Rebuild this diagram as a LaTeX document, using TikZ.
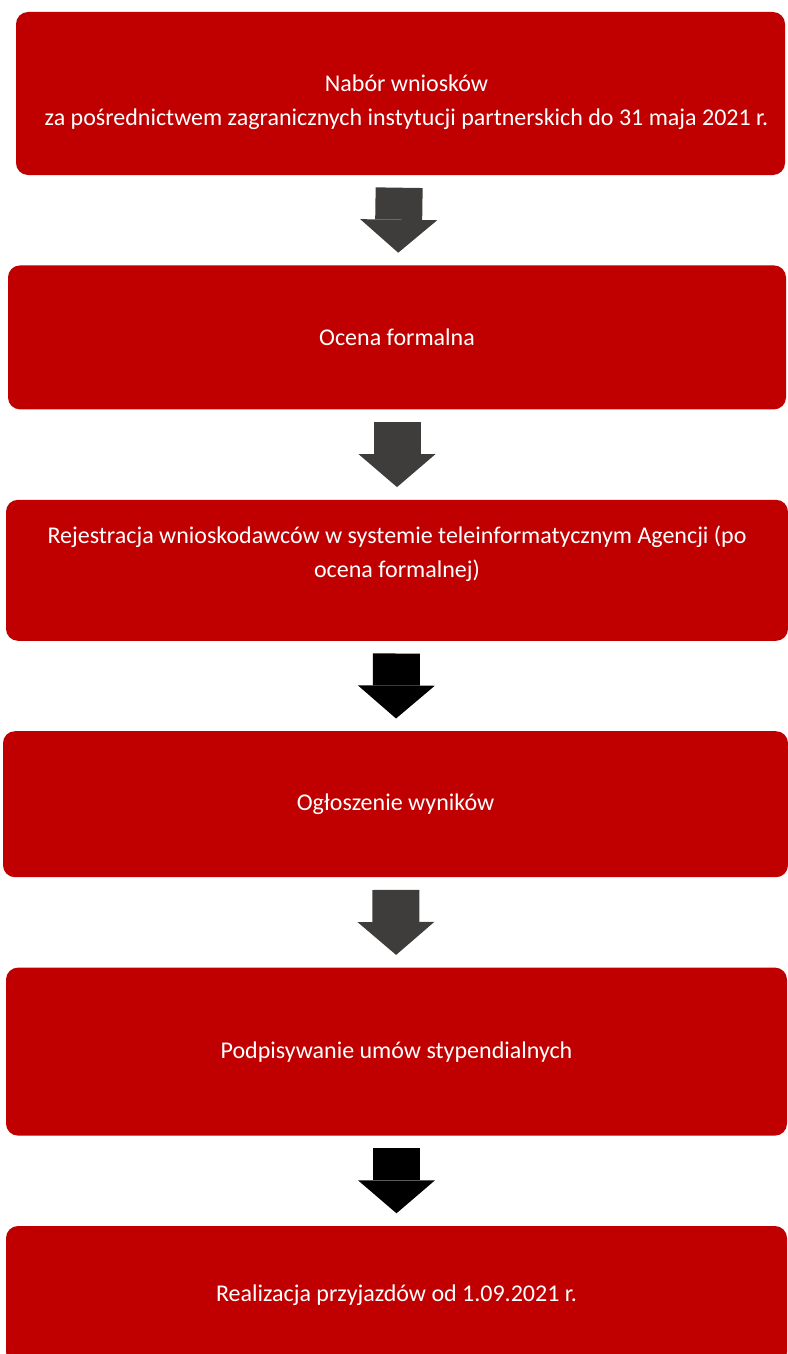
\documentclass[tikz,border=0pt]{standalone}
\usepackage{fontspec}
\setmainfont{Carlito}
\usetikzlibrary{positioning,arrows.meta}
\definecolor{boxred}{RGB}{192,0,0}
\definecolor{arrowgray}{RGB}{63,61,59}

\begin{document}
\begin{tikzpicture}[node distance=90pt, >=Triangle,
	stage/.style={draw=none, rectangle, rounded corners=12pt, fill=boxred, text=white, font=\fontsize{24}{35}\selectfont, align=center, minimum width=778pt, inner sep=0pt},
	stagetext/.style={draw=none, text=white, font=\fontsize{24}{34}\selectfont, align=center, inner sep=0pt},
	flowArrow/.style={line width=47pt, -{Triangle[length=33pt, width=77pt, line width=0pt]}, shorten <=12.5pt, shorten >=12.5pt, color=arrowgray},
	flowArrowBlack/.style={flowArrow, color=black}
	]
	\useasboundingbox (0,0) rectangle (787pt,-1354pt);

	\node[stage, minimum width=769pt, minimum height=163pt] (nabor) at (400.5pt,-93.5pt) {};
	\node[stagetext, below = 63pt of nabor.north, xshift=6pt] (naborText) {Nabór wniosków\\ za pośrednictwem zagranicznych instytucji partnerskich do 31 maja 2021 r.};

	\node[stage, minimum height=144pt, below = of nabor, xshift=-3.5pt] (ocena) {Ocena formalna};
	\draw [flowArrow] (nabor) -- (ocena);

	\node[stage, minimum width=782pt, minimum height=141pt, below = of ocena] (rejestracja) {};
	\node[stagetext, below = 26pt of rejestracja.north] (rejestracjaText) {Rejestracja wnioskodawców w systemie teleinformatycznym Agencji (po\\ ocena formalnej)};
	\draw [flowArrow] (ocena) -- (rejestracja);

	\node[stage, minimum width=785pt, minimum height=146pt, below = of rejestracja, xshift=-1.5pt] (ogloszenie) {Ogłoszenie wyników};
	\draw [flowArrowBlack] (rejestracja) -- (ogloszenie);

	\node[stage, minimum width=781pt, minimum height=168pt, below = of ogloszenie, xshift=1pt] (umowy) {Podpisywanie umów stypendialnych};
	\draw [flowArrow] (ogloszenie) -- (umowy);

	\node[stage, minimum width=781pt, minimum height=138pt, below = of umowy] (przyjazdy) {Realizacja przyjazdów od 1.09.2021 r.};
	\draw [flowArrowBlack] (umowy) -- (przyjazdy);
\end{tikzpicture}
\end{document}
